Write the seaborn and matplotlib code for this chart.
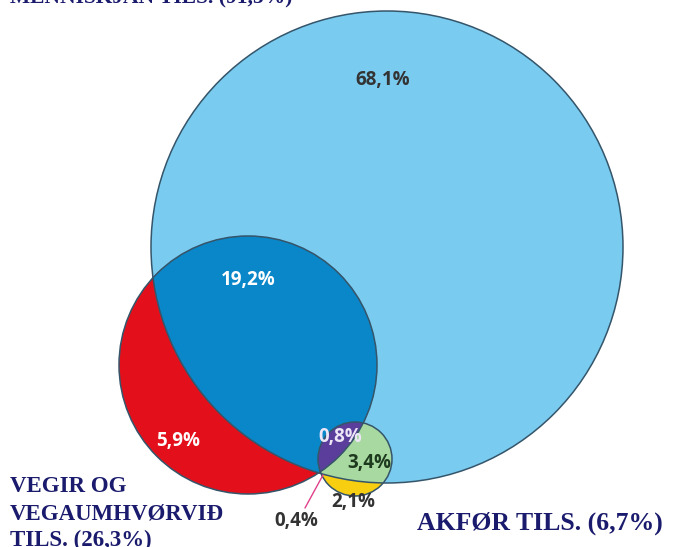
import numpy as np
import matplotlib
matplotlib.use("Agg")
import matplotlib.pyplot as plt
import seaborn as sns
from matplotlib.patches import Circle, Polygon

sns.set_theme(style="white")
plt.rcParams['font.family'] = ['DejaVu Sans']

# ---- data ----
set_names = ["MENNISKJAN TILS.", "VEGIR OG\nVEGAUMHVØRVIÐ\nTILS.", "AKFØR TILS."]
set_totals = ["91,5%", "26,3%", "6,7%"]
region_keys = ["A", "AB", "B", "ABC", "AC", "C", "BC"]
region_labels = ["68,1%", "19,2%", "5,9%", "0,8%", "3,4%", "2,1%", "0,4%"]

# ---- layout (pixel coordinates) ----
W, H = 675, 547
circles = {"A": (387, 247, 236), "B": (248, 365, 129), "C": (355, 459, 37)}
colors = {"A": "#79CBEF", "AB": "#0A87C9", "B": "#E3101B", "C": "#F7CF10",
          "AC": "#A8D9A0", "BC": "#F07A20", "ABC": "#5B3E9C"}
label_pos = {"A": (383, 80), "AB": (248, 280), "B": (178, 441), "ABC": (340, 437),
             "AC": (369, 463), "C": (353, 502), "BC": (296, 521)}
label_col = {"A": "#333333", "AB": "white", "B": "white", "ABC": "#EDE6F7",
             "AC": "#1E3A1E", "C": "#333333", "BC": "#333333"}

fig = plt.figure(figsize=(W / 100, H / 100), dpi=100)
ax = fig.add_axes([0, 0, 1, 1])
ax.set_xlim(0, W)
ax.set_ylim(H, 0)
ax.axis('off')


def circle_poly(cx, cy, r, n=720):
    t = np.linspace(0, 2 * np.pi, n, endpoint=False)
    return np.c_[cx + r * np.cos(t), cy + r * np.sin(t)]


def clip(subject, clipper):
    out = list(subject)
    m = len(clipper)
    for i in range(m):
        a = clipper[i]
        b = clipper[(i + 1) % m]
        inp = out
        out = []
        if not inp:
            break

        def inside(p):
            return (b[0] - a[0]) * (p[1] - a[1]) - (b[1] - a[1]) * (p[0] - a[0]) >= 0

        def inter(p, q):
            d1 = np.array(q) - np.array(p)
            d2 = np.array(b) - np.array(a)
            den = d1[0] * d2[1] - d1[1] * d2[0]
            t = ((a[0] - p[0]) * d2[1] - (a[1] - p[1]) * d2[0]) / den
            return np.array(p) + t * d1

        s = inp[-1]
        for e in inp:
            if inside(e):
                if not inside(s):
                    out.append(inter(s, e))
                out.append(e)
            elif inside(s):
                out.append(inter(s, e))
            s = e
    return np.array(out)


polys = {k: circle_poly(*v) for k, v in circles.items()}
regions = {
    "A": polys["A"],
    "B": polys["B"],
    "AB": clip(polys["B"], polys["A"]),
    "C": polys["C"],
    "AC": clip(polys["C"], polys["A"]),
    "BC": clip(polys["C"], polys["B"]),
    "ABC": clip(clip(polys["C"], polys["A"]), polys["B"]),
}
for key in ["A", "B", "AB", "C", "AC", "BC", "ABC"]:
    pts = regions[key]
    if len(pts) >= 3:
        ax.add_patch(Polygon(pts, closed=True, facecolor=colors[key], edgecolor='none', zorder=2))

for key, (cx, cy, r) in circles.items():
    ax.add_patch(Circle((cx, cy), r, facecolor='none', edgecolor='#35556A', lw=1.1, zorder=3))

for key, lab in zip(region_keys, region_labels):
    x, y = label_pos[key]
    ax.text(x, y, lab, ha='center', va='center', fontsize=13.5, fontweight='bold',
            family=['Open Sans', 'DejaVu Sans'], color=label_col[key], zorder=5)

# pointer for the small region
ax.plot([305, 323], [508, 475], color='#E0408A', lw=1.0, zorder=4)

navy = '#1B1B6E'
serif = ['Liberation Serif', 'DejaVu Serif']
ax.text(10, 3, f"{set_names[0]} ({set_totals[0]})", ha='left', va='baseline',
        fontsize=15.5, fontweight='bold', family=serif, color=navy, zorder=5)

left_lines = f"{set_names[1]} ({set_totals[1]})".split("\n")
for line, yb in zip(left_lines, [492, 520, 546]):
    ax.text(10, yb, line, ha='left', va='baseline',
            fontsize=16.5, fontweight='bold', family=serif, color=navy, zorder=5)

ax.text(417, 530, f"{set_names[2]} ({set_totals[2]})", ha='left', va='baseline',
        fontsize=18.5, fontweight='bold', family=serif, color=navy, zorder=5)

fig.savefig("out.png", dpi=100, facecolor='white')
